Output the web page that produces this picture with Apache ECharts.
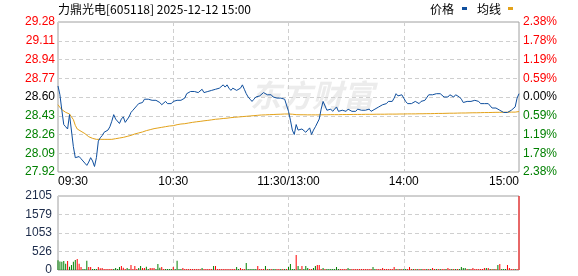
<!DOCTYPE html>
<html><head><meta charset="utf-8">
<script src="https://cdn.jsdelivr.net/npm/echarts@6/dist/echarts.min.js"></script>
<style>html,body{margin:0;padding:0;background:#fff}#c{width:578px;height:276px}</style>
</head><body><div id="c"></div>
<script>
const titleText = '力鼎光电[605118] 2025-12-12 15:00';
const legendNames = ['价格', '均线'];
const priceTicks = ['27.92','28.09','28.26','28.43','28.60','28.77','28.94','29.11','29.28'];
const pctTicks = ['2.38%','1.78%','1.19%','0.59%','0.00%','0.59%','1.19%','1.78%','2.38%'];
const volTicks = ['0','526','1053','1579','2105'];
const timeTicks = {0:'09:30', 60:'10:30', 120:'11:30/13:00', 180:'14:00', 240:'15:00'};

const price = [
28.70,28.62,28.48,28.35,28.33,28.31,28.44,28.45,28.15,28.05,
28.05,28.06,28.04,28.02,28.00,27.98,28.01,28.05,28.02,27.97,
28.05,28.20,28.23,28.25,28.28,28.28,28.30,28.33,28.38,28.44,
28.40,28.40,28.36,28.40,28.42,28.37,28.37,28.42,28.46,28.48,
28.49,28.52,28.54,28.54,28.55,28.58,28.59,28.58,28.57,28.57,
28.57,28.57,28.57,28.55,28.53,28.52,28.56,28.54,28.55,28.54,
28.56,28.56,28.57,28.56,28.57,28.56,28.59,28.63,28.64,28.65,
28.64,28.65,28.65,28.64,28.65,28.67,28.64,28.65,28.65,28.65,
28.66,28.65,28.67,28.66,28.68,28.68,28.71,28.69,28.71,28.68,
28.66,28.68,28.68,28.66,28.65,28.68,28.71,28.67,28.63,28.60,
28.58,28.56,28.58,28.60,28.60,28.61,28.62,28.64,28.65,28.62,
28.61,28.62,28.60,28.60,28.59,28.59,28.59,28.58,28.58,28.57,
28.47,28.39,28.30,28.26,28.35,28.30,28.31,28.31,28.31,28.28,
28.29,28.32,28.26,28.30,28.33,28.33,28.40,28.49,28.56,28.55,
28.48,28.49,28.49,28.47,28.49,28.51,28.47,28.47,28.48,28.49,
28.47,28.49,28.48,28.47,28.48,28.47,28.49,28.48,28.48,28.49,
28.48,28.49,28.49,28.47,28.46,28.49,28.50,28.51,28.52,28.53,
28.54,28.54,28.56,28.56,28.56,28.59,28.63,28.61,28.62,28.62,
28.59,28.56,28.54,28.53,28.54,28.55,28.56,28.55,28.54,28.56,
28.56,28.57,28.56,28.62,28.63,28.62,28.62,28.63,28.63,28.63,
28.62,28.60,28.60,28.60,28.62,28.61,28.60,28.62,28.61,28.60,
28.58,28.55,28.56,28.56,28.56,28.56,28.56,28.57,28.58,28.56,
28.54,28.53,28.54,28.54,28.54,28.54,28.50,28.50,28.50,28.49,
28.48,28.47,28.46,28.46,28.46,28.47,28.48,28.48,28.51,28.59,
28.63
];

const avg = [
28.530,28.506,28.485,28.470,28.461,28.449,28.446,28.434,28.395,28.343,
28.310,28.295,28.289,28.280,28.268,28.252,28.240,28.231,28.225,28.219,
28.216,28.216,28.216,28.216,28.216,28.216,28.216,28.216,28.216,28.219,
28.222,28.225,28.228,28.231,28.234,28.240,28.243,28.249,28.252,28.259,
28.265,28.268,28.274,28.277,28.283,28.289,28.295,28.301,28.304,28.310,
28.313,28.316,28.319,28.322,28.325,28.328,28.331,28.334,28.337,28.339,
28.340,28.346,28.349,28.352,28.355,28.357,28.358,28.361,28.364,28.367,
28.370,28.373,28.375,28.376,28.379,28.381,28.384,28.385,28.388,28.390,
28.393,28.395,28.398,28.399,28.401,28.404,28.405,28.407,28.408,28.410,
28.413,28.414,28.416,28.417,28.419,28.420,28.422,28.423,28.425,28.426,
28.428,28.429,28.431,28.432,28.434,28.435,28.437,28.438,28.438,28.440,
28.440,28.441,28.441,28.443,28.443,28.444,28.444,28.446,28.446,28.446,
28.446,28.445,28.444,28.443,28.440,28.440,28.439,28.439,28.439,28.438,
28.438,28.438,28.438,28.438,28.438,28.438,28.438,28.438,28.439,28.439,
28.439,28.439,28.440,28.440,28.440,28.440,28.440,28.440,28.441,28.441,
28.441,28.441,28.441,28.441,28.442,28.442,28.442,28.442,28.442,28.443,
28.443,28.443,28.443,28.443,28.443,28.443,28.444,28.444,28.444,28.444,
28.444,28.444,28.445,28.445,28.445,28.445,28.445,28.446,28.446,28.446,
28.446,28.446,28.447,28.447,28.447,28.447,28.447,28.448,28.448,28.448,
28.448,28.448,28.449,28.449,28.449,28.450,28.450,28.450,28.451,28.451,
28.451,28.452,28.452,28.452,28.453,28.453,28.453,28.454,28.454,28.454,
28.455,28.455,28.455,28.456,28.456,28.456,28.457,28.457,28.457,28.458,
28.458,28.458,28.459,28.459,28.459,28.460,28.460,28.460,28.461,28.461,
28.461,28.462,28.462,28.462,28.462,28.463,28.463,28.463,28.463,28.464,
28.468
];

const volume = [
280,243,237,256,180,256,95,142,237,284,
313,180,85,28,28,265,85,85,28,28,
28,85,47,57,28,28,28,28,28,28,
57,28,85,114,66,28,57,28,142,28,
114,28,57,114,57,57,95,28,57,57,
57,28,171,66,85,28,28,28,28,28,
85,28,265,28,28,57,28,28,28,28,
28,28,28,28,28,57,28,28,28,28,
28,114,114,28,28,28,28,28,28,28,
28,28,28,85,28,57,28,28,199,28,
28,28,28,28,114,28,28,28,114,28,
28,28,28,28,28,28,28,28,28,28,
85,171,28,28,427,114,28,114,28,114,
57,28,28,57,114,142,142,28,57,28,
28,28,28,28,28,85,28,28,28,28,
28,57,28,28,28,28,28,28,28,28,
28,28,28,28,85,28,28,28,28,57,
28,28,28,28,28,85,28,28,28,28,
28,28,28,85,28,28,28,28,28,28,
28,28,28,28,28,57,28,28,28,28,
28,28,28,57,28,28,28,28,28,28,
85,57,57,28,28,28,57,28,28,28,
28,28,57,57,57,28,28,28,28,142,
171,28,28,28,142,57,28,28,28,28,
2105
];

// R = up minute (red), G = down minute (green)
const volDir = (
'GGGGGRGGGG'+'RRRGGGRRGG'+'GRRRRRRRRG'+'GGGRRRGGRR'+'RRGGRRGGRR'+'RGGGRRGGGG'+
'RGGGGRRRRR'+'RRRRRGRRRR'+'RGRRRRRRRR'+'RRRGGRRRGG'+'GGGGRRRRGR'+'GRGGRRGRGR'+
'GGGGRGGRGG'+'GRRGGRRRGR'+'GGGGGGGRRR'+'RGGRRRRRRR'+'RRRRGGRRRR'+'RRRRRRGRGR'+
'GGRRRGRGRG'+'RRGRGRRGRG'+'RRGRRGRGRG'+'GGGRGRRRRR'+'RRRGRGRGRG'+'RGGGRRRRGR'+
'R'
).split('');

const times = [];
for (let m = 9*60+30; m <= 11*60+30; m++) times.push(String(Math.floor(m/60)).padStart(2,'0')+':'+String(m%60).padStart(2,'0'));
for (let m = 13*60+1; m <= 15*60; m++) times.push(String(Math.floor(m/60)).padStart(2,'0')+':'+String(m%60).padStart(2,'0'));

const F = 'Liberation Sans, Arial, sans-serif';
const CJK = 'Noto Sans CJK SC, sans-serif';
const dash = {color:'#cfcfcf', type:[4,3], width:1};
const vSplit = (i) => i === 60 || i === 120 || i === 180;

const chart = echarts.init(document.getElementById('c'), null, {renderer:'canvas'});
chart.setOption({
  animation: false,
  backgroundColor: '#fff',
  grid: [
    {left:58, top:22, width:461, height:150, show:true, borderColor:'#a0a0a0', borderWidth:1},
    {left:58, top:196, width:461, height:74, show:true, borderColor:'#a0a0a0', borderWidth:1}
  ],
  graphic: [
    {type:'text', left:58, top:3, z:10, style:{text:titleText, fontSize:12, fontFamily:CJK, fill:'#000'}},
    {type:'text', left:430, top:3, z:10, style:{text:legendNames[0], fontSize:12, fontFamily:CJK, fill:'#000'}},
    {type:'rect', shape:{x:462, y:7, width:5, height:3}, z:10, style:{fill:'#0f4f9e'}},
    {type:'text', left:477, top:3, z:10, style:{text:legendNames[1], fontSize:12, fontFamily:CJK, fill:'#000'}},
    {type:'rect', shape:{x:508, y:7, width:5, height:3}, z:10, style:{fill:'#e3a21a'}},
    {type:'text', left:250, top:80, z:0, style:{text:'东方财富', fontSize:31, fontWeight:'bold', fontStyle:'italic', fontFamily:CJK, fill:'#ececec'}}
  ],
  xAxis: [
    {type:'category', gridIndex:0, data:times, boundaryGap:false,
     axisLine:{show:false}, axisTick:{show:false},
     axisLabel:{interval:(i)=>timeTicks[i]!==undefined, formatter:(v,i)=>timeTicks[i]||'',
                fontSize:12, fontFamily:F, color:'#000', margin:4,
                alignMinLabel:'left', alignMaxLabel:'right', showMinLabel:true, showMaxLabel:true},
     splitLine:{show:true, interval:vSplit, lineStyle:dash}},
    {type:'category', gridIndex:1, data:times, boundaryGap:false,
     axisLine:{show:false}, axisTick:{show:false}, axisLabel:{show:false},
     splitLine:{show:true, interval:vSplit, lineStyle:dash}}
  ],
  yAxis: [
    {type:'value', gridIndex:0, min:27.92, max:29.28, interval:0.17,
     axisLine:{show:false}, axisTick:{show:false},
     splitLine:{show:true, lineStyle:dash},
     axisLabel:{margin:3, fontSize:12, fontFamily:F,
       formatter:(v)=>{const k=Math.round((v-27.92)/0.17); const s=k>4?'r':(k===4?'k':'g'); return '{'+s+'|'+priceTicks[k]+'}';},
       rich:{r:{color:'#ff0000',fontSize:12,fontFamily:F}, k:{color:'#000',fontSize:12,fontFamily:F}, g:{color:'#008000',fontSize:12,fontFamily:F}}}},
    {type:'value', gridIndex:0, position:'right', min:-2.38, max:2.38, interval:0.595,
     axisLine:{show:false}, axisTick:{show:false}, splitLine:{show:false},
     axisLabel:{margin:4, fontSize:12, fontFamily:F,
       formatter:(v)=>{const k=Math.round((v+2.38)/0.595); const s=k>4?'r':(k===4?'k':'g'); return '{'+s+'|'+pctTicks[8-k]+'}';},
       rich:{r:{color:'#ff0000',fontSize:12,fontFamily:F}, k:{color:'#000',fontSize:12,fontFamily:F}, g:{color:'#008000',fontSize:12,fontFamily:F}}}},
    {type:'value', gridIndex:1, min:0, max:2105, interval:526.25,
     axisLine:{show:false}, axisTick:{show:false},
     splitLine:{show:true, lineStyle:dash},
     axisLabel:{margin:6, fontSize:12, fontFamily:F, color:'#1c2b4a',
       formatter:(v)=>volTicks[Math.round(v/526.25)]}}
  ],
  series: [
    {type:'line', xAxisIndex:0, yAxisIndex:0, data:avg, symbol:'none', z:3,
     lineStyle:{color:'#e3a21a', width:1}},
    {type:'line', xAxisIndex:0, yAxisIndex:0, data:price, symbol:'none', z:4,
     lineStyle:{color:'#0f4f9e', width:1}},
    {type:'bar', xAxisIndex:1, yAxisIndex:2, barWidth:1,
     data:volume.map((v,i)=>({value:v, itemStyle:{color: volDir[i]==='R' ? '#ff0000' : '#008000'}}))}
  ]
});
</script>
</body></html>
